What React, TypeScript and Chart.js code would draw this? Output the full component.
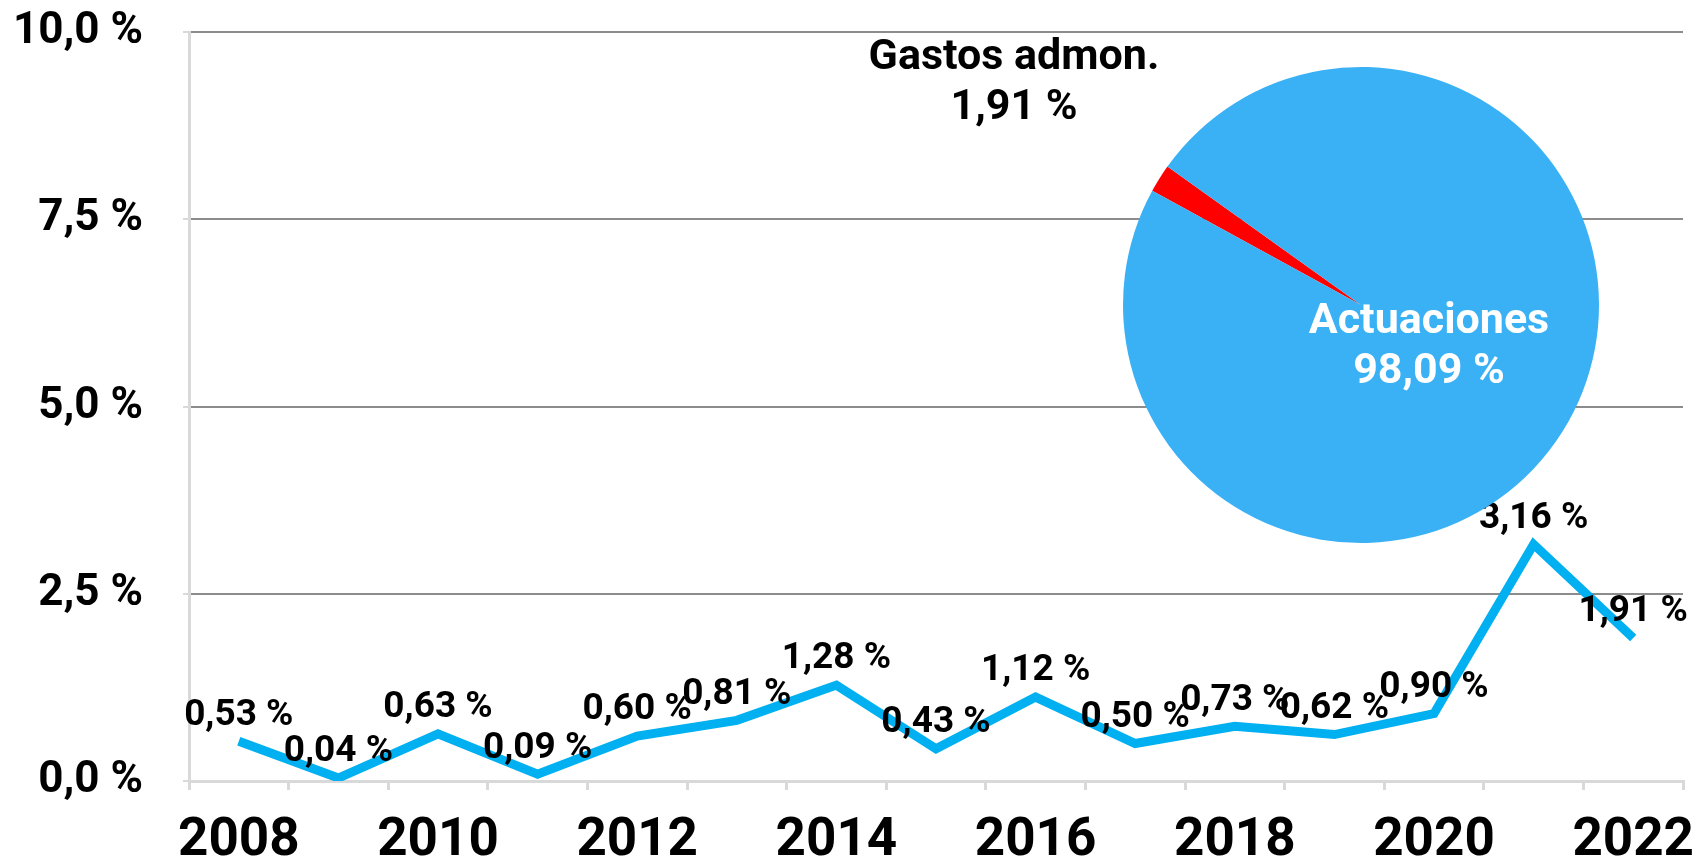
import React, { useEffect, useRef } from 'react';
import { Chart, registerables } from 'chart.js';

Chart.register(...registerables);

const years = ['2008', '2009', '2010', '2011', '2012', '2013', '2014', '2015', '2016', '2017', '2018', '2019', '2020', '2021', '2022'];
const gastosPct = [0.53, 0.04, 0.63, 0.09, 0.60, 0.81, 1.28, 0.43, 1.12, 0.50, 0.73, 0.62, 0.90, 3.16, 1.91];
const yTickLabels = ['0,0 %', '2,5 %', '5,0 %', '7,5 %', '10,0 %'];
const pieLabels = ['Gastos admon.', 'Actuaciones'];
const pieValues = [1.91, 98.09];

const FONT = 'Roboto, "Noto Sans", sans-serif';
const fmt = (v: number) => v.toFixed(2).replace('.', ',') + ' %';

export default function App() {
  const lineRef = useRef<HTMLCanvasElement>(null);
  const pieRef = useRef<HTMLCanvasElement>(null);

  useEffect(() => {
    const lineLabels = {
      id: 'lineLabels',
      afterDatasetsDraw(chart: any) {
        const ctx = chart.ctx;
        const meta = chart.getDatasetMeta(0);
        ctx.save();
        ctx.font = `bold 37px ${FONT}`;
        ctx.fillStyle = '#000';
        ctx.textAlign = 'center';
        ctx.textBaseline = 'middle';
        meta.data.forEach((pt: any, i: number) => {
          ctx.fillText(fmt(gastosPct[i]), pt.x, pt.y - 26);
        });
        ctx.restore();
      },
    };

    const line = new Chart(lineRef.current!, {
      type: 'line',
      data: {
        labels: years,
        datasets: [
          {
            data: gastosPct,
            borderColor: '#00B0F0',
            borderWidth: 9,
            pointRadius: 0,
            tension: 0,
            fill: false,
            borderJoinStyle: 'miter',
          },
        ],
      },
      options: {
        responsive: false,
        animation: false,
        layout: { padding: { left: 0, right: 11, top: 32, bottom: 0 } },
        plugins: { legend: { display: false }, tooltip: { enabled: false } },
        scales: {
          x: {
            offset: true,
            grid: {
              display: true,
              offset: true,
              drawOnChartArea: false,
              drawTicks: true,
              tickLength: 9,
              tickColor: '#d9d9d9',
              lineWidth: 3,
            },
            border: { color: '#d9d9d9', width: 3 },
            ticks: {
              autoSkip: false,
              maxRotation: 0,
              minRotation: 0,
              padding: 20,
              color: '#000',
              font: { family: FONT, size: 53, weight: 'bold' },
              callback: (_v: any, i: number) => (i % 2 === 0 ? years[i] : ''),
            },
            afterFit: (scale: any) => {
              scale.height = 81;
              scale.paddingLeft = 0;
              scale.paddingRight = 0;
            },
          },
          y: {
            min: 0,
            max: 10,
            ticks: {
              stepSize: 2.5,
              padding: 40,
              color: '#000',
              font: { family: FONT, size: 44, weight: 'bold' },
              callback: (v: any) => yTickLabels[Math.round(Number(v) / 2.5)],
            },
            grid: {
              color: (c: any) => (c.tick && c.tick.value === 0 ? '#d9d9d9' : '#8c8c8c'),
              lineWidth: 2,
              tickLength: 6,
              tickColor: '#d9d9d9',
            },
            border: { color: '#d9d9d9', width: 3 },
            afterFit: (scale: any) => {
              scale.width = 189;
              scale.paddingTop = 0;
              scale.paddingBottom = 0;
            },
          },
        },
      },
      plugins: [lineLabels],
    } as any);

    const pieText = {
      id: 'pieText',
      afterDraw(chart: any) {
        const ctx = chart.ctx;
        const arc = chart.getDatasetMeta(0).data[0];
        const cx = arc.x;
        const cy = arc.y;
        ctx.save();
        ctx.font = `bold 43px ${FONT}`;
        ctx.textAlign = 'center';
        ctx.textBaseline = 'middle';
        ctx.fillStyle = '#000';
        ctx.fillText(pieLabels[0], cx - 347, cy - 247);
        ctx.fillText(fmt(pieValues[0]), cx - 347, cy - 197);
        ctx.fillStyle = '#fff';
        ctx.fillText(pieLabels[1], cx + 68, cy + 17);
        ctx.fillText(fmt(pieValues[1]), cx + 68, cy + 67);
        ctx.restore();
      },
    };

    const pie = new Chart(pieRef.current!, {
      type: 'pie',
      data: {
        labels: pieLabels,
        datasets: [
          {
            data: pieValues,
            backgroundColor: ['#FF0000', '#3BB1F5'],
            borderWidth: 0,
          },
        ],
      },
      options: {
        responsive: false,
        animation: false,
        rotation: 298.7,
        layout: { padding: { left: 273, right: 95, top: 67, bottom: 17 } },
        plugins: { legend: { display: false }, tooltip: { enabled: false } },
      },
      plugins: [pieText],
    } as any);

    return () => {
      line.destroy();
      pie.destroy();
    };
  }, []);

  return (
    <div style={{ position: 'fixed', left: 0, top: 0, width: 1694, height: 862, background: '#fff' }}>
      <canvas
        ref={lineRef}
        width={1694}
        height={862}
        style={{ position: 'absolute', left: 0, top: 0, width: 1694, height: 862 }}
      />
      <canvas
        ref={pieRef}
        width={844}
        height={560}
        style={{ position: 'absolute', left: 850, top: 0, width: 844, height: 560 }}
      />
    </div>
  );
}
